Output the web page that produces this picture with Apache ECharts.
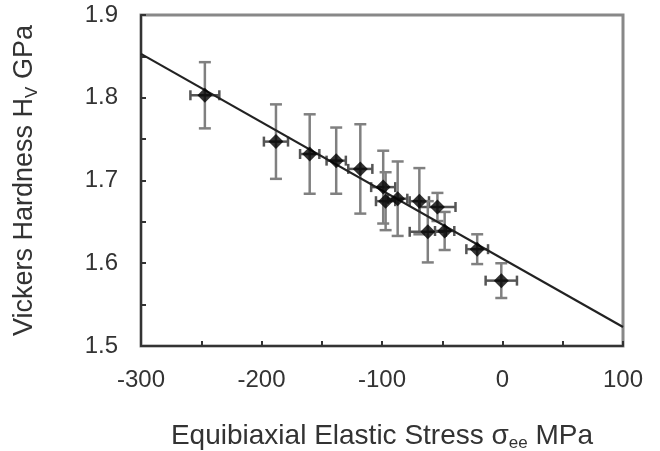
<!DOCTYPE html>
<html>
<head>
<meta charset="utf-8">
<script src="https://cdn.jsdelivr.net/npm/echarts@6/dist/echarts.min.js"></script>
<style>
  html, body { margin: 0; padding: 0; background: #fff; }
  #chart { width: 660px; height: 451px; }
</style>
</head>
<body>
<div id="chart"></div>
<script>
// values
const stress = [-247, -188, -160, -138, -118, -99, -97, -87, -69, -54, -62, -48, -21, -1]
const hardness = [1.803, 1.747, 1.732, 1.724, 1.714, 1.692, 1.675, 1.678, 1.675, 1.668, 1.638, 1.639, 1.617, 1.579]
const hardnessErr = [0.040, 0.045, 0.048, 0.040, 0.054, 0.044, 0.035, 0.045, 0.040, 0.017, 0.037, 0.023, 0.018, 0.021]
const stressErr = [12, 10, 8, 8, 10, 10, 8, 8, 8, 15, 15, 8, 9, 13]
const fitX = [-300, 100]
const fitY = [1.853, 1.523]

const chart = echarts.init(document.getElementById('chart'))

const points = stress.map((s, i) => [s, hardness[i]])
const bars = stress.map((s, i) => [s, hardness[i], hardnessErr[i], stressErr[i]])
const fit = fitX.map((x, i) => [x, fitY[i]])

function errorBar(params, api) {
  const x = api.value(0)
  const y = api.value(1)
  const ey = api.value(2)
  const ex = api.value(3)
  const top = api.coord([x, y + ey])
  const bot = api.coord([x, y - ey])
  const left = api.coord([x - ex, y])
  const right = api.coord([x + ex, y])
  const vStyle = { stroke: '#808080', lineWidth: 2.5 }
  const hStyle = { stroke: '#555', lineWidth: 2.5 }
  const c = 6
  return {
    type: 'group',
    children: [
      { type: 'line', shape: { x1: top[0], y1: top[1], x2: bot[0], y2: bot[1] }, style: vStyle },
      { type: 'line', shape: { x1: top[0] - c, y1: top[1], x2: top[0] + c, y2: top[1] }, style: vStyle },
      { type: 'line', shape: { x1: bot[0] - c, y1: bot[1], x2: bot[0] + c, y2: bot[1] }, style: vStyle },
      { type: 'line', shape: { x1: left[0], y1: left[1], x2: right[0], y2: right[1] }, style: hStyle },
      { type: 'line', shape: { x1: left[0], y1: left[1] - 5, x2: left[0], y2: left[1] + 5 }, style: hStyle },
      { type: 'line', shape: { x1: right[0], y1: right[1] - 5, x2: right[0], y2: right[1] + 5 }, style: hStyle }
    ]
  }
}

function titleRich(size) {
  return {
    t: { fontSize: size, color: '#333', lineHeight: size + 4 },
    s: { fontSize: Math.round(size * 0.62), color: '#333', lineHeight: size + 4, padding: [Math.round(size * 0.55), 0, 0, 0] }
  }
}

chart.setOption({
  backgroundColor: '#fff',
  animation: false,
  textStyle: { fontFamily: 'Liberation Sans, Arial, sans-serif' },
  grid: {
    left: 141,
    right: 37,
    top: 15,
    bottom: 105,
    outerBoundsMode: 'none',
    show: true,
    borderColor: '#888',
    borderWidth: 3
  },
  xAxis: {
    type: 'value',
    min: -300,
    max: 100,
    interval: 100,
    name: '{t|Equibiaxial Elastic Stress σ}{s|ee}{t| MPa}',
    nameLocation: 'middle',
    nameGap: 74,
    nameTextStyle: { rich: titleRich(28) },
    axisLine: { onZero: false, lineStyle: { color: '#333', width: 2 } },
    axisTick: { inside: true, length: 5, lineStyle: { color: '#333', width: 2 } },
    minorTick: { show: true, splitNumber: 2, length: 5, lineStyle: { color: '#333', width: 2 } },
    axisLabel: { fontSize: 24, color: '#333', margin: 22 },
    splitLine: { show: false }
  },
  yAxis: {
    type: 'value',
    min: 1.5,
    max: 1.9,
    interval: 0.1,
    name: '{t|Vickers Hardness H}{s|V}{t| GPa}',
    nameLocation: 'middle',
    nameGap: 101,
    nameTextStyle: { rich: titleRich(27) },
    axisLine: { onZero: false, lineStyle: { color: '#333', width: 2 } },
    axisTick: { inside: true, length: 5, lineStyle: { color: '#333', width: 2 } },
    minorTick: { show: true, splitNumber: 2, length: 5, lineStyle: { color: '#333', width: 2 } },
    axisLabel: { fontSize: 24, color: '#333', margin: 23, formatter: v => v.toFixed(1) },
    splitLine: { show: false }
  },
  series: [
    {
      type: 'line',
      data: fit,
      symbol: 'none',
      lineStyle: { color: '#222', width: 2.2 },
      z: 3
    },
    {
      type: 'custom',
      data: bars,
      renderItem: errorBar,
      z: 2
    },
    {
      type: 'scatter',
      data: points,
      symbol: 'diamond',
      symbolSize: 15,
      itemStyle: { color: '#000' },
      z: 4
    }
  ]
})
</script>
</body>
</html>
